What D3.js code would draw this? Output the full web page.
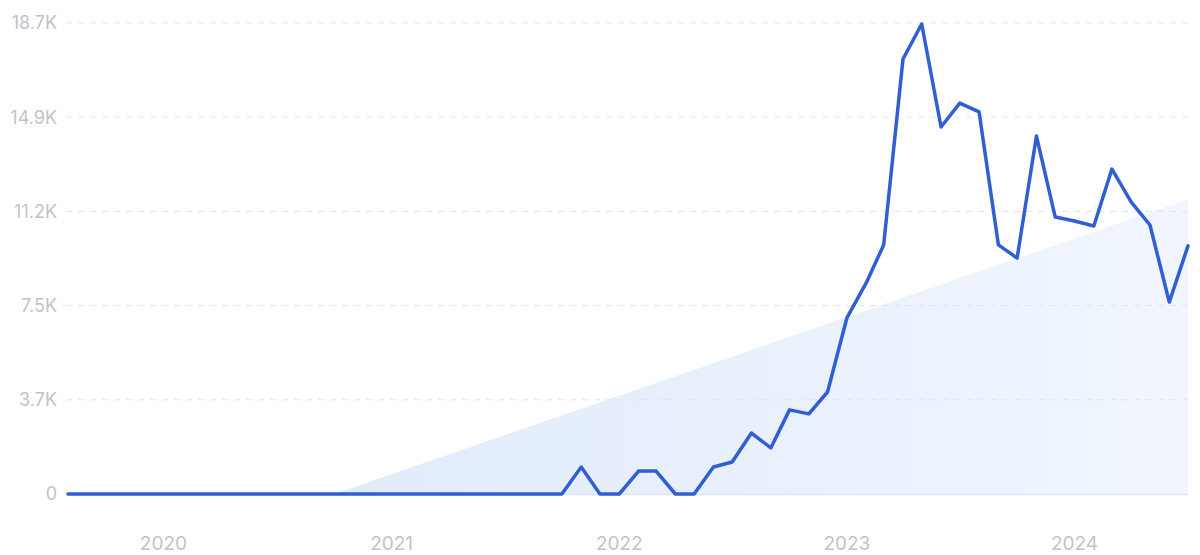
<!DOCTYPE html>
<html>
<head>
<meta charset="utf-8">
<script src="https://cdn.jsdelivr.net/npm/d3@7"></script>
<style>
  html, body { margin: 0; padding: 0; background: #ffffff; }
  svg { display: block; }
  .tick-label { font-family: Inter, "Noto Sans", sans-serif; fill: #bfc3cb; }
</style>
</head>
<body>
<svg id="chart" width="1200" height="555"></svg>
<script>
// Monthly values, Aug 2019 – Jul 2024
const months = d3.range(60).map(i => new Date(2019, 7 + i, 1));
const values = [
  0,0,0,0,0,0,0,0,0,0,
  0,0,0,0,0,0,0,0,0,0,
  0,0,0,0,0,0,0,1070,0,0,
  910,910,0,0,1070,1270,2420,1830,3340,3180,
  4050,6990,8380,9890,17270,18660,14570,15520,15170,9890,
  9370,14210,11000,10840,10640,12900,11590,10680,7620,9850
];
// Trend line (start / end values)
const trendValues = [-3650, 11700];
const yTicks = [0, 3740, 7480, 11220, 14960, 18700];
const yTickLabels = ["0", "3.7K", "7.5K", "11.2K", "14.9K", "18.7K"];
const xTickYears = [2020, 2021, 2022, 2023, 2024];

const svg = d3.select("#chart");
const margin = { left: 68, right: 12, top: 23, bottom: 61 };
const W = 1200, H = 555;

const x = d3.scaleTime()
  .domain([months[0], months[months.length - 1]])
  .range([margin.left, W - margin.right]);
const y = d3.scaleLinear()
  .domain([0, 18700])
  .range([H - margin.bottom, margin.top]);

// gradient for trend area
const defs = svg.append("defs");
const grad = defs.append("linearGradient").attr("id", "trendGrad")
  .attr("x1", "0").attr("y1", "0").attr("x2", "1").attr("y2", "0");
grad.append("stop").attr("offset", "0%").attr("stop-color", "#e1ebfa");
grad.append("stop").attr("offset", "100%").attr("stop-color", "#f1f6fe");

// trend area (clipped at zero)
const t0 = months[0], t1 = months[months.length - 1];
const tv0 = trendValues[0], tv1 = trendValues[1];
const frac = -tv0 / (tv1 - tv0);
const tZero = new Date(+t0 + frac * (t1 - t0));
const trendPts = [
  { d: tZero, v: 0 },
  { d: t1, v: tv1 }
];
const area = d3.area()
  .x(d => x(d.d))
  .y0(y(0))
  .y1(d => y(d.v));
svg.append("path")
  .datum(trendPts)
  .attr("d", area)
  .attr("fill", "url(#trendGrad)");

// gridlines
const grid = svg.append("g");
grid.selectAll("line")
  .data(yTicks.slice(1))
  .join("line")
  .attr("x1", margin.left - 2)
  .attr("x2", W - margin.right)
  .attr("y1", d => y(d))
  .attr("y2", d => y(d))
  .attr("stroke", "#dfe4ec")
  .attr("stroke-width", 1)
  .attr("stroke-dasharray", "6,6");

// baseline
svg.append("line")
  .attr("x1", margin.left - 2)
  .attr("x2", W - margin.right)
  .attr("y1", y(0) + 0.5)
  .attr("y2", y(0) + 0.5)
  .attr("stroke", "#dde6f4")
  .attr("stroke-width", 1.5);

// y labels
svg.append("g").selectAll("text")
  .data(yTicks)
  .join("text")
  .attr("class", "tick-label")
  .attr("x", 57)
  .attr("y", d => y(d))
  .attr("dy", "0.36em")
  .attr("text-anchor", "end")
  .attr("font-size", 18)
  .text((d, i) => yTickLabels[i]);

// x labels
svg.append("g").selectAll("text")
  .data(xTickYears)
  .join("text")
  .attr("class", "tick-label")
  .attr("x", d => x(new Date(d, 0, 1)))
  .attr("y", 550)
  .attr("text-anchor", "middle")
  .attr("font-size", 19)
  .text(d => d);

// data line
const line = d3.line()
  .x((d, i) => x(months[i]))
  .y(d => y(d));
svg.append("path")
  .datum(values)
  .attr("d", line)
  .attr("fill", "none")
  .attr("stroke", "#2f5fd3")
  .attr("stroke-width", 3.5)
  .attr("stroke-linejoin", "round")
  .attr("stroke-linecap", "round");
</script>
</body>
</html>
